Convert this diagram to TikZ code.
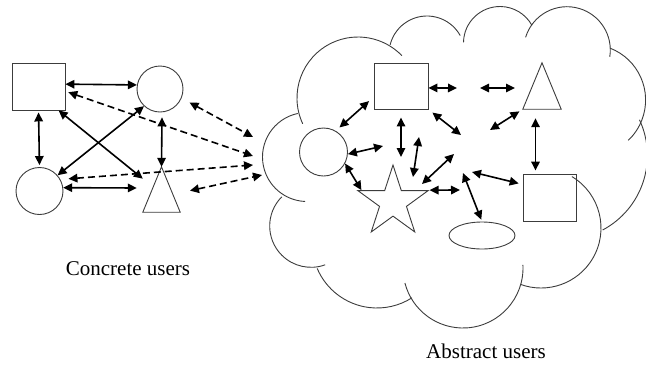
\documentclass[tikz,border=0pt]{standalone}
\usepackage{fontspec}
\setmainfont{Liberation Serif}
\definecolor{shapegray}{HTML}{3C3C3C}
\usetikzlibrary{shapes, arrows.meta}

\begin{document}
\begin{tikzpicture}[x=1pt, y=-1pt,
    shape line/.style={draw=shapegray, line width=0.9pt},
    userbox/.style={shape line, rectangle, minimum width=53pt, minimum height=47pt, inner sep=0pt},
    usercirc/.style={shape line, circle, minimum size=#1, inner sep=0pt},
    tribox/.style={rectangle, minimum width=37pt, minimum height=45pt, inner sep=0pt},
    link/.style={{Triangle[length=9pt,width=8.5pt]}-{Triangle[length=9pt,width=8.5pt]}, line width=1.6pt},
    dlink/.style={link, dash pattern=on 7pt off 4pt},
    grouptext/.style={font=\fontsize{21}{25}\selectfont, anchor=base, inner sep=0pt}]
  \useasboundingbox (0,0) rectangle (646,365);

  % the cloud
  \foreach \cx/\cy/\r/\a/\b in {307/157/44.5/258/92.5, 358/98/61/155/316,
      427/54/38/194/331, 500/43/36.5/181/331, 567/50/43.3/197/369,
      590/100/55.6/-69/46.5, 563/155.5/84.4/-25/62, 541/228/60/-59/110,
      463/268/60/-3/165.5, 377/243/65/157/57.5, 311/226/41.3/225/70}
    \draw[shape line] (\cx,\cy) ++(\a:\r) arc[start angle=\a, end angle=\b, radius=\r];

  % concrete users
  \node[userbox] (cSq) at (38.5,86.5) {};
  \node[usercirc=46pt] (cCircTop) at (160,89) {};
  \node[usercirc=47pt] (cCircBot) at (39.5,191) {};
  \node[tribox] (cTri) at (161.5,189.5) {};

  % abstract users
  \node[userbox, minimum width=54pt, minimum height=46pt] (aSq) at (401,86) {};
  \node[usercirc=48pt] (aCirc) at (323.5,152) {};
  \node[tribox, minimum width=38pt, minimum height=46pt] (aTri) at (542,86) {};
  \node[userbox] (aSqLow) at (549.5,197.5) {};
  \node[shape line, star, star points=5, star point ratio=2.618,
        minimum size=74pt, inner sep=0pt] (aStar) at (393,202) {};
  \node[shape line, ellipse, minimum width=66pt, minimum height=27pt,
        inner sep=0pt] (aEll) at (482,235.5) {};

  \foreach \t in {cTri, aTri}
    \draw[shape line] (\t.north) -- (\t.south east) -- (\t.south west) -- cycle;

  \node[grouptext] (cLabel) at (128,275) {Concrete users};
  \node[grouptext] (aLabel) at (486,358) {Abstract users};

  % free ends
  \coordinate (cl1) at (253,137);
  \coordinate (cl2) at (253,156);
  \coordinate (cl3) at (253,165);
  \coordinate (cl4) at (262,175);
  \coordinate (m1) at (457,88);
  \coordinate (m2a) at (480,88);
  \coordinate (m2b) at (515,88);
  \coordinate (m3) at (490,130);
  \coordinate (m4) at (461,135);
  \coordinate (m6) at (401,157);
  \coordinate (m7) at (383,146);
  \coordinate (m8a) at (419,137);
  \coordinate (m8b) at (413,177);
  \coordinate (m9a) at (454,154);
  \coordinate (m9b) at (422,184);
  \coordinate (m11) at (460,190);
  \coordinate (m12) at (472,172);
  \coordinate (m13) at (463,173);

  % links between concrete users
  \draw[link] (cSq.5) -- (cCircTop.170);
  \draw[link, shorten <=2pt, shorten >=2pt] (cSq.south) -- (cCircBot.north);
  \draw[link] (cSq.-50) -- (cTri.150);
  \draw[link] (cCircTop.-133) -- (cCircBot.41);
  \draw[link, shorten <=5pt] (cCircTop.-85) -- (cTri.north);
  \draw[link] (cCircBot.8) -- ([xshift=-6pt,yshift=1.5pt]cTri.west);

  % dashed links to the cloud
  \draw[dlink, shorten <=3pt] (cSq.-10) -- (cl2);
  \draw[dlink, shorten <=9pt] (cCircTop.-23) -- (cl1);
  \draw[dlink, shorten <=8pt] (cCircBot.29) -- (cl3);
  \draw[dlink, shorten <=10pt] (cTri.-10) -- (cl4);

  % links inside the cloud
  \draw[link] (aSq.-4) -- (m1);
  \draw[link] (m2a) -- (m2b);
  \draw[link, shorten <=4pt] (aTri.south west) -- (m3);
  \draw[link, shorten <=5pt] (aSq.south east) -- (m4);
  \draw[link, shorten <=6pt, shorten >=5pt] (aSq.202) -- (aCirc.60);
  \draw[link, shorten <=8pt] (aSq.south) -- (m6);
  \draw[link] (aCirc.-5) -- (m7);
  \draw[link] (m8a) -- (m8b);
  \draw[link] (m9a) -- (m9b);
  \draw[link] (aCirc.-28) -- ([xshift=5pt]aStar.outer point 2);
  \draw[link] (aStar.outer point 5) -- (m11);
  \draw[link, shorten <=4pt] (aSqLow.154) -- (m12);
  \draw[link, shorten >=2pt] (m13) -- (aEll.north);
  \draw[link] ([xshift=-6.5pt,yshift=-9pt]aTri.south) -- ([xshift=-14pt,yshift=3pt]aSqLow.north);
\end{tikzpicture}
\end{document}
